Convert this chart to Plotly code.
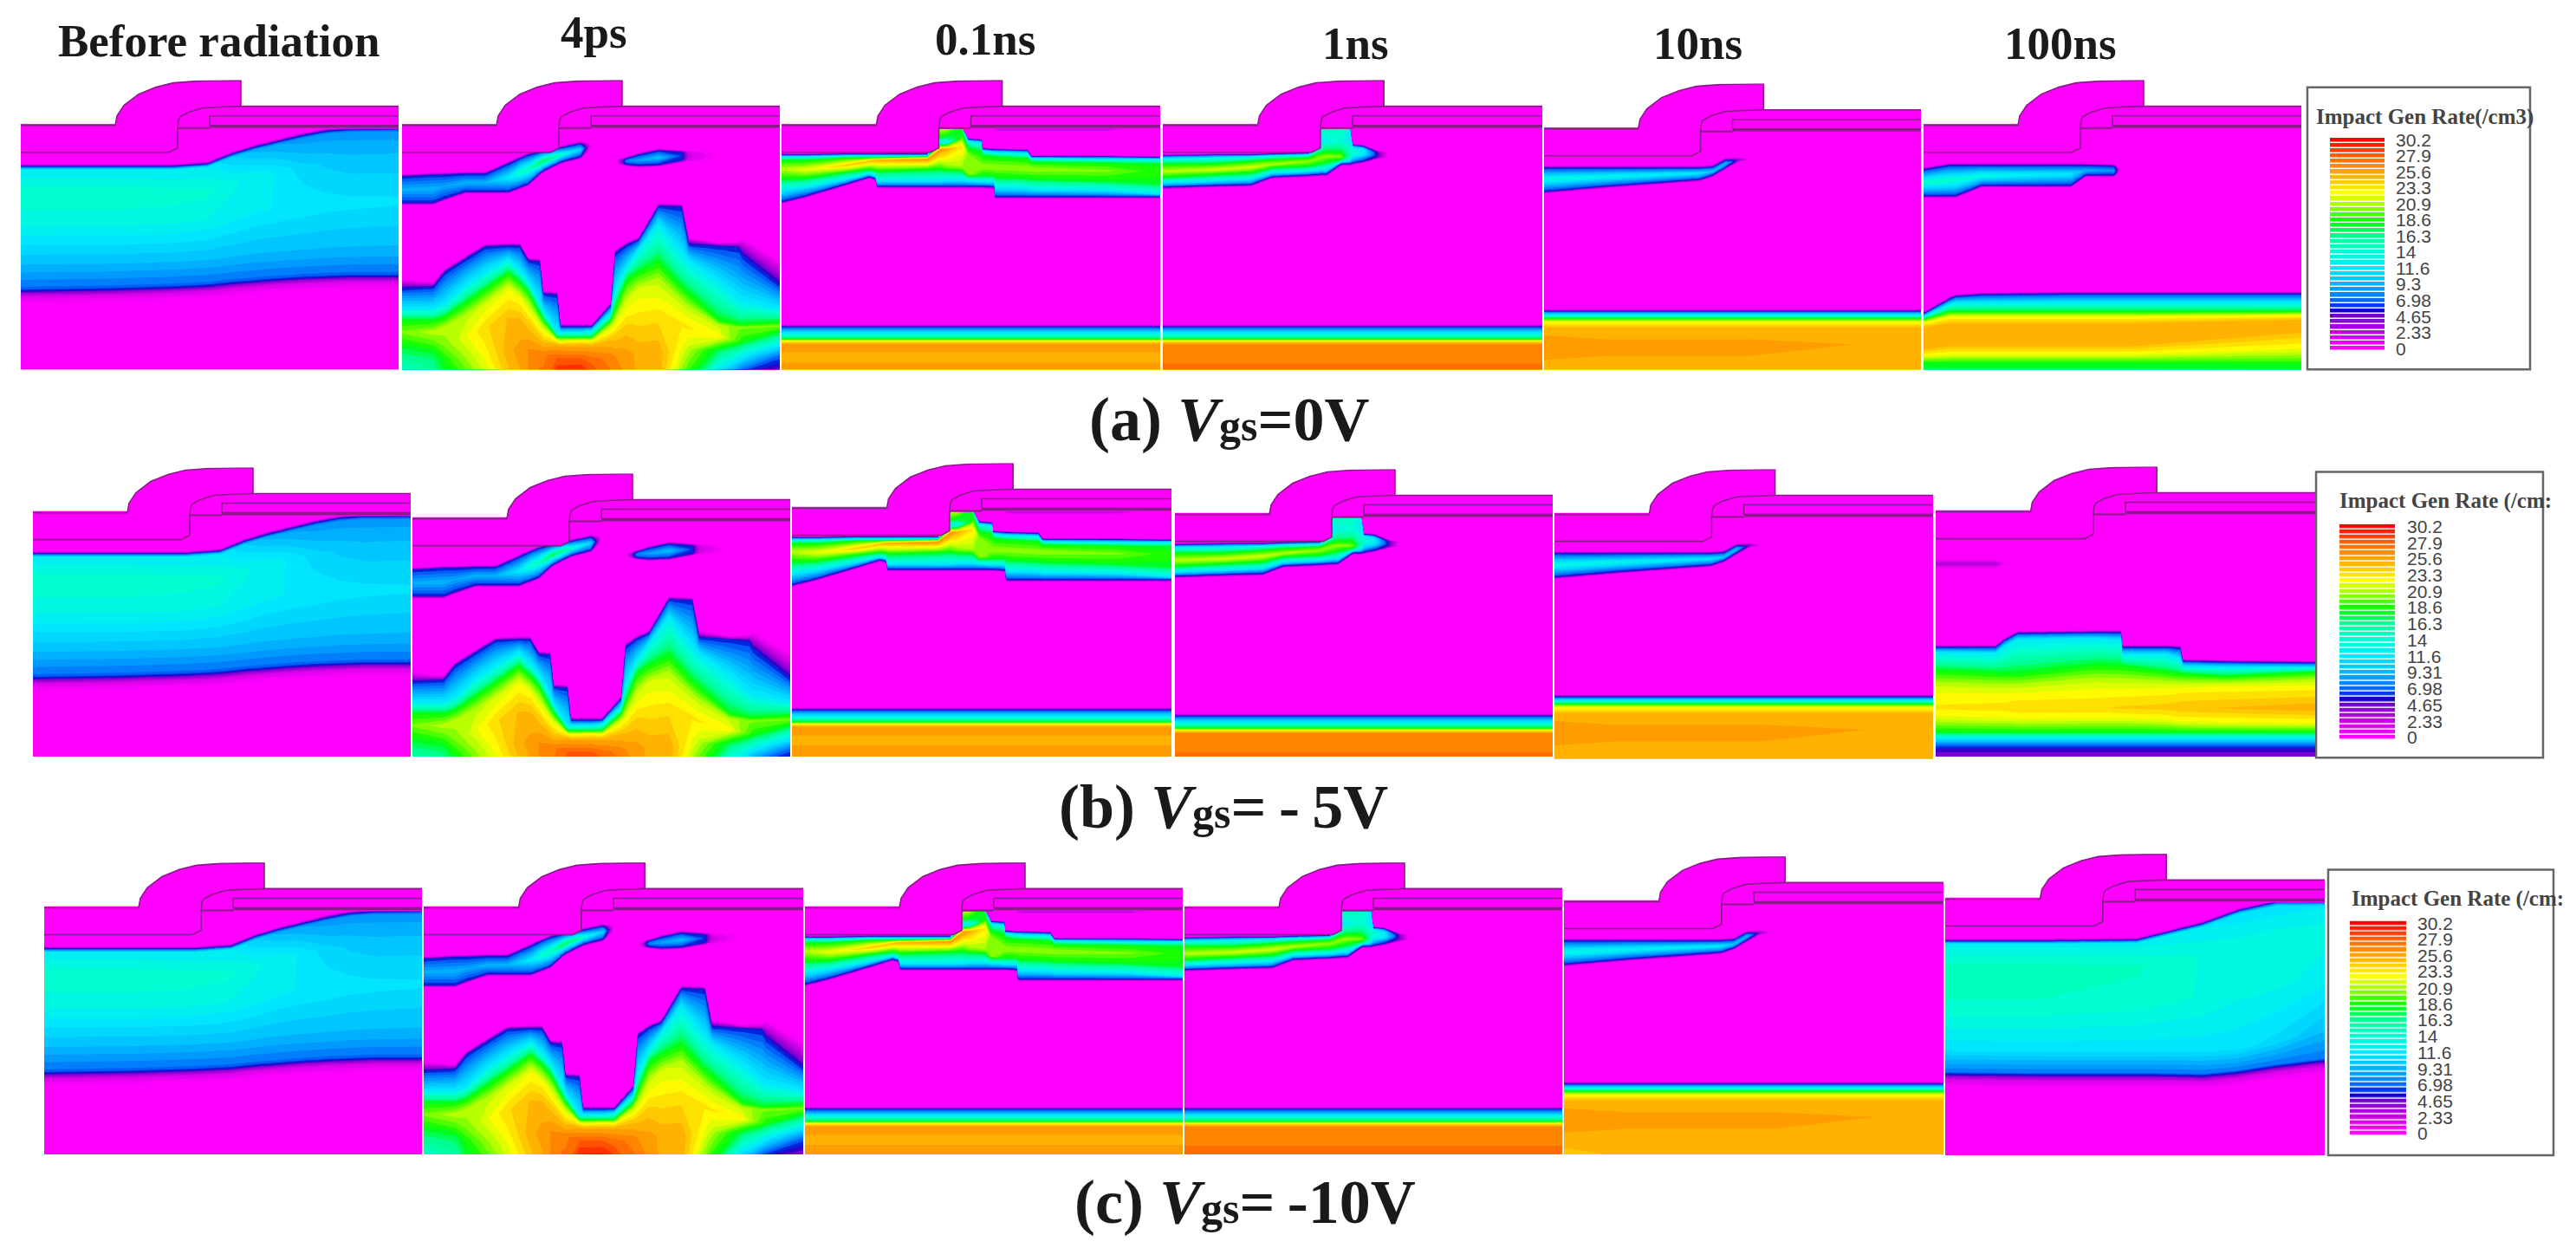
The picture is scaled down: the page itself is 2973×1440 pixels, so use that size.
import plotly.graph_objects as go

W, H = 2973, 1440

# ------------------ colour levels ------------------
Z_MAX = 30.2
SCALE_Z = [0, 2.33, 4.65, 5.6, 6.4, 8, 10, 11.6, 14, 16.3, 18.3, 20.9, 22.5, 24.5, 26, 28, 30.2]
SCALE_C = ["#ff00ff", "#c800e0", "#7000d0", "#0000c8", "#0050f5", "#0090ff", "#00c8ff", "#00e8ff", "#00ffd0",
           "#00ff90", "#00ff00", "#b0ff00", "#ffff00", "#ffc000", "#ff9800", "#ff5a00", "#ff0000"]
LEGEND_LEVELS = [0, 0.78, 1.55, 2.33, 3.1, 3.88, 4.65, 5.43, 6.2, 6.98, 7.76, 8.53, 9.31, 10.1, 10.8,
                 11.6, 12.4, 13.2, 14, 14.8, 15.5, 16.3, 17.1, 17.8, 18.6, 19.4, 20.2, 20.9, 21.7,
                 22.5, 23.3, 24, 24.8, 25.6, 26.4, 27.2, 27.9, 28.7, 29.5, 30.2]
LEGEND_VALUES = [0, 2.33, 4.65, 6.98, 9.31, 11.6, 14, 16.3, 18.6, 20.9, 23.3, 25.6, 27.9, 30.2]
LEGEND_TEXT_A = ["0", "2.33", "4.65", "6.98", "9.3", "11.6", "14", "16.3", "18.6", "20.9", "23.3", "25.6", "27.9", "30.2"]
LEGEND_TEXT_B = ["0", "2.33", "4.65", "6.98", "9.31", "11.6", "14", "16.3", "18.6", "20.9", "23.3", "25.6", "27.9", "30.2"]

TIME_LABELS = ["Before radiation", "4ps", "0.1ns", "1ns", "10ns", "100ns"]

# ------------------ device outline (device units) ------------------
CAP_X = [0, 109, 111, 119, 136, 156, 176, 203, 254, 254, 436, 436, 181, 181, 171, 0, 0]
CAP_Y = [52, 52, 41, 29, 16, 8, 3, 1, 0, 30, 30, 56, 56, 78, 83, 83, 52]
OUT_X = [0, 109, 111, 119, 136, 156, 176, 203, 254, 254, 436]
OUT_Y = [52, 52, 41, 29, 16, 8, 3, 1, 0, 30, 30]
LINER_X = [0, 171, 181, 181, 182, 184, 193, 209, 226, 254]
LINER_Y = [83, 83, 78, 56, 46, 42, 37, 32, 31, 30]
PLATE_X = [436, 218, 218]
PLATE_Y = [41, 41, 52]
SURF_X = [181, 218]
SURF_Y = [55, 55]
THICK_X = [218, 436]
THICK_Y = [53, 53]

# ------------------ field knots: one list per column ------------------
BEFORE_X = [0, 110, 176, 216, 243, 269, 293, 326, 353, 380, 436]
BEFORE_Y = [
    [50, 96, 99, 103, 130, 165, 215, 240, 243, 249, 258, 345],
    [50, 96, 99, 103, 130, 165, 214, 238, 241, 247, 256, 345],
    [50, 96, 99, 103, 130, 163, 212, 236, 239, 245, 254, 345],
    [50, 93, 96, 100, 128, 160, 210, 234, 237, 243, 252, 345],
    [50, 82, 85, 89, 118, 155, 207, 231, 234, 240, 249, 345],
    [50, 74, 77, 81, 110, 150, 204, 229, 232, 238, 247, 345],
    [50, 68, 71, 75, 105, 147, 202, 227, 230, 236, 245, 345],
    [50, 60, 63, 67, 100, 145, 200, 225, 228, 234, 243, 345],
    [50, 55, 58, 62, 95, 143, 198, 224, 227, 233, 242, 345],
    [50, 53, 56, 60, 92, 142, 197, 223, 226, 232, 241, 345],
    [50, 53, 55, 60, 90, 140, 196, 223, 226, 232, 241, 345],
]
BEFORE_Z = [
    [0, 0, 5.5, 12, 14.3, 13, 9.5, 7.2, 5.6, 2, 0, 0],
    [0, 0, 5.5, 12, 14.3, 13, 9.5, 7.2, 5.6, 2, 0, 0],
    [0, 0, 5.5, 12, 14, 13, 9.5, 7.2, 5.6, 2, 0, 0],
    [0, 0, 5.5, 12, 13.8, 12.8, 9.5, 7.2, 5.6, 2, 0, 0],
    [0, 0, 5.5, 10.5, 13, 12.5, 9.5, 7.2, 5.6, 2, 0, 0],
    [0, 0, 5.5, 9.5, 12.5, 12.2, 9.5, 7.2, 5.6, 2, 0, 0],
    [0, 0, 5.5, 9, 12, 12, 9.5, 7.2, 5.6, 2, 0, 0],
    [0, 0, 5.5, 8.5, 10.8, 11.8, 9.5, 7.2, 5.6, 2, 0, 0],
    [0, 0, 5.5, 8.5, 10.3, 11.6, 9.5, 7.2, 5.6, 2, 0, 0],
    [0, 0, 5.5, 8.5, 10, 11.5, 9.5, 7.2, 5.6, 2, 0, 0],
    [0, 0, 5.5, 8.5, 10, 11.4, 9.5, 7.2, 5.6, 2, 0, 0],
]

PS4_X = [0, 36, 49, 73, 96, 123, 136, 146, 159, 163, 179, 183, 206, 219, 241, 246, 259, 273, 296, 323, 331, 366, 389, 393, 436]
PS4_Y = [
    [50, 108, 111, 126, 141, 144, 228, 240, 263, 276, 290, 305, 320, 345],
    [50, 106, 109, 125, 141, 144, 232, 238, 263, 276, 290, 305, 318, 345],
    [50, 106, 109, 122, 136, 139, 217, 221, 258, 272, 285, 305, 320, 345],
    [50, 105, 108, 118, 128, 131, 202, 206, 236, 256, 272, 295, 320, 345],
    [50, 105, 108, 118, 128, 131, 188, 192, 221, 240, 258, 285, 315, 345],
    [50, 93, 96, 112, 128, 131, 187, 191, 206, 221, 240, 275, 310, 345],
    [50, 87, 90, 106, 123, 126, 187, 191, 219, 232, 250, 275, 310, 345],
    [50, 83, 86, 102, 119, 122, 204, 208, 231, 243, 258, 280, 310, 345],
    [50, 80, 83, 95, 107, 110, 205, 209, 255, 268, 280, 295, 315, 345],
    [50, 79, 82, 93, 104, 107, 242, 246, 265, 275, 285, 300, 315, 345],
    [50, 76, 79, 87, 96, 99, 243, 247, 290, 296, 298, 305, 320, 345],
    [50, 75, 78, 86, 94, 97, 280, 284, 290, 296, 299, 306, 320, 345],
    [50, 70, 73, 80, 88, 91, 280, 284, 290, 296, 299, 306, 320, 345],
    [50, 70, 73, 75, 78, 80, 280, 284, 288, 296, 299, 306, 320, 345],
    [50, 70, 73, 75, 78, 80, 255, 259, 268, 276, 282, 300, 320, 345],
    [50, 90, 92, 94, 96, 98, 195, 199, 240, 262, 275, 295, 318, 345],
    [50, 88, 90, 93, 97, 99, 186, 190, 215, 229, 250, 285, 315, 345],
    [50, 83, 86, 92, 98, 101, 180, 184, 195, 220, 240, 280, 315, 345],
    [50, 78, 81, 89, 97, 100, 141, 145, 165, 209, 230, 275, 315, 345],
    [50, 80, 83, 87, 92, 95, 142, 146, 200, 238, 255, 280, 310, 345],
    [50, 80, 83, 87, 91, 95, 180, 189, 208, 245, 262, 285, 310, 345],
    [50, 80, 83, 87, 91, 95, 187, 191, 232, 276, 282, 295, 312, 345],
    [50, 80, 83, 87, 91, 95, 185, 193, 253, 281, 284, 300, 315, 345],
    [50, 80, 83, 87, 91, 95, 180, 201, 255, 281, 284, 300, 315, 345],
    [50, 80, 83, 87, 91, 95, 205, 236, 263, 278, 283, 295, 318, 345],
]
PS4_Z = [
    [0, 0, 6, 9.3, 6, 0, 0, 6, 12, 18, 20, 18, 16, 13],
    [0, 0, 6, 9.5, 6, 0, 0, 6, 12, 18, 21, 19, 17, 15],
    [0, 0, 6, 9, 6, 0, 0, 6, 12, 18, 21, 20, 18.5, 17],
    [0, 0, 6, 9.5, 6, 0, 0, 6, 12, 18, 21, 22, 20.5, 19],
    [0, 0, 6, 9.5, 6, 0, 0, 6, 12, 18, 21.5, 23.5, 22.5, 21],
    [0, 0, 6, 12, 6, 0, 0, 6, 12, 18, 22, 24.5, 25, 24],
    [0, 0, 6, 14.5, 6, 0, 0, 6, 12, 18, 22, 24.5, 25.5, 25],
    [0, 0, 6, 15, 6, 0, 0, 6, 12, 18, 21, 24, 26, 26],
    [0, 0, 6, 17.5, 6, 0, 0, 6, 12, 18, 21.5, 24, 26.5, 27],
    [0, 0, 6, 17.5, 6, 0, 0, 6, 12, 18, 21.5, 24, 26.5, 27],
    [0, 0, 6, 16, 6, 0, 0, 6, 12, 18, 21, 25, 27.5, 30],
    [0, 0, 6, 14.5, 6, 0, 0, 6, 12, 18, 21, 25, 27.5, 30],
    [0, 0, 6, 11, 6, 0, 0, 6, 12, 18, 22, 25, 27.5, 30.2],
    [0, 0, 0, 0, 0, 0, 0, 6, 12, 18, 21.5, 25, 27, 29],
    [0, 0, 0, 0, 0, 0, 0, 6, 12, 18, 21, 24.5, 26.5, 27],
    [0, 0, 0, 0, 0, 0, 0, 6, 12, 18, 21, 24, 26, 26.5],
    [0, 0, 6, 8, 6, 0, 0, 6, 12, 18, 21, 24, 25.5, 26],
    [0, 0, 6, 9, 6, 0, 0, 6, 12, 18, 21.5, 23.5, 25, 25],
    [0, 0, 6, 10, 6, 0, 0, 6, 12, 18, 21, 23.5, 25, 25],
    [0, 0, 6, 6.5, 6, 0, 0, 6, 12, 18, 21, 23, 22, 19.5],
    [0, 0, 2, 2.5, 2, 0, 0, 6, 12, 18, 21, 23, 21, 18],
    [0, 0, 0, 0, 0, 0, 0, 6, 12, 18, 21, 22.5, 17, 9],
    [0, 0, 0, 0, 0, 0, 0, 6, 12, 18, 20, 19, 14, 4],
    [0, 0, 0, 0, 0, 0, 0, 6, 12, 18, 20, 18.5, 13, 3.5],
    [0, 0, 0, 0, 0, 0, 0, 6, 12, 18, 20, 16, 7, 3],
]

# lower orange stripe shared by the 0.1 ns and 1 ns states
STRIPE_Y = [281, 284, 291, 298, 300, 304, 320, 345]
STRIPE_Z_01 = [0, 6, 12, 18, 22, 25.5, 25, 26]
STRIPE_Z_1 = [0, 6, 12, 18, 22, 26, 26.5, 27.5]

NS01_X = [0, 28, 75, 101, 108, 110, 168, 183, 190, 208, 215, 230, 231, 245, 246, 283, 288, 375, 437]
NS01_Y = [
    [52, 53, 84, 86, 88, 92, 102, 114, 127, 140, 143],
    [52, 53, 84, 86, 88, 92, 103, 113, 123, 133, 136],
    [52, 53, 83, 85, 87, 89, 98, 106, 114, 119, 122],
    [52, 53, 83, 85, 87, 89, 93, 103, 108, 111, 114],
    [52, 53, 83, 85, 87, 89, 92, 104, 110, 113, 116],
    [52, 53, 83, 85, 87, 89, 92, 105, 116, 122, 125],
    [52, 53, 83, 85, 87, 88, 91, 103, 116, 122, 125],
    [52, 53, 55, 56, 66, 71, 80, 100, 116, 122, 125],
    [52, 53, 55, 56, 66, 71, 79, 100, 115, 122, 125],
    [52, 53, 55, 56, 62, 68, 76, 100, 115, 122, 125],
    [52, 53, 66, 68, 70, 76, 85, 108, 116, 122, 125],
    [52, 53, 67, 69, 72, 82, 100, 110, 117, 122, 125],
    [52, 53, 77, 79, 81, 86, 100, 110, 117, 122, 125],
    [52, 53, 78, 80, 83, 88, 100, 110, 117, 123, 126],
    [56, 59, 78, 80, 83, 88, 100, 112, 124, 134, 137],
    [56, 59, 79, 81, 84, 90, 102, 113, 125, 134, 137],
    [56, 59, 86, 88, 90, 94, 102, 114, 126, 134, 137],
    [56, 59, 86, 88, 91, 95, 104, 116, 127, 134, 137],
    [52, 53, 87, 89, 91, 96, 105, 119, 131, 134, 137],
]
NS01_Z = [
    [0, 0, 0, 6, 12, 18, 21, 18, 12, 6, 0],
    [0, 0, 0, 6, 12, 18, 22, 18, 12, 6, 0],
    [0, 0, 0, 6, 12, 18, 24, 18, 12, 6, 0],
    [0, 0, 0, 6, 12, 18, 24.5, 18, 12, 6, 0],
    [0, 0, 0, 6, 12, 18, 25, 18, 12, 6, 0],
    [0, 0, 0, 6, 12, 18, 25, 18, 12, 6, 0],
    [0, 0, 0, 6, 12, 18, 26, 18, 12, 6, 0],
    [0, 0, 0, 21, 18, 12, 26, 19, 12, 6, 0],
    [0, 0, 0, 21, 17, 12, 25, 20, 12, 6, 0],
    [0, 0, 0, 17, 18, 20, 23, 20.5, 12, 6, 0],
    [0, 0, 0, 6, 12, 17, 20, 20.5, 12, 6, 0],
    [0, 0, 0, 6, 12, 18, 20.5, 18, 12, 6, 0],
    [0, 0, 0, 6, 12, 18, 20.5, 18, 12, 6, 0],
    [0, 0, 0, 6, 12, 18, 20.5, 18, 12, 6, 0],
    [4, 0, 0, 6, 12, 18, 20.5, 18, 12, 6, 0],
    [4, 0, 0, 6, 12, 18, 20.5, 18, 12, 6, 0],
    [4, 0, 0, 6, 12, 18, 20.5, 18, 12, 6, 0],
    [4, 0, 0, 6, 12, 18, 20, 18, 12, 6, 0],
    [0, 0, 0, 6, 12, 18, 18.5, 18, 12, 6, 0],
]

NS1_X = [0, 58, 101, 125, 168, 183, 188, 205, 215, 218, 230, 250, 260, 436]
NS1_Y = [
    [85, 87, 90, 96, 105, 112, 118, 123, 126],
    [84, 86, 89, 96, 103, 109, 116, 121, 124],
    [84, 86, 88, 93, 100, 107, 114, 120, 123],
    [83, 85, 87, 91, 97, 101, 107, 111, 114],
    [82, 84, 86, 89, 93, 99, 105, 109, 112],
    [55, 56, 70, 80, 88, 96, 103, 108, 111],
    [55, 56, 70, 80, 88, 96, 103, 108, 111],
    [55, 56, 70, 80, 88, 92, 94, 96, 99],
    [55, 56, 70, 78, 86, 90, 93, 96, 99],
    [73, 75, 77, 80, 84, 88, 92, 95, 98],
    [74, 76, 78, 80, 84, 87, 90, 93, 96],
    [82, 83, 84, 85, 86, 87, 88, 89, 90],
    [82, 83, 84, 85, 86, 87, 88, 89, 90],
    [82, 83, 84, 85, 86, 87, 88, 89, 90],
]
NS1_Z = [
    [0, 6, 12, 18, 21, 18, 12, 6, 0],
    [0, 6, 12, 18, 21.5, 18, 12, 6, 0],
    [0, 6, 12, 18, 21.5, 18, 12, 6, 0],
    [0, 6, 12, 18, 21, 18, 12, 6, 0],
    [0, 6, 12, 18, 20.5, 18, 12, 6, 0],
    [0, 15, 12, 16, 20.5, 18, 12, 6, 0],
    [0, 15, 13, 17, 20.5, 17, 12, 6, 0],
    [0, 14.5, 14, 17, 20, 17, 12, 6, 0],
    [0, 12, 12, 14, 15, 14, 11, 6, 0],
    [0, 6, 12, 13.5, 14, 12, 9, 6, 0],
    [0, 6, 10, 12, 12.5, 11, 8, 6, 0],
    [0, 4, 4, 4, 4, 4, 4, 4, 0],
    [0, 0, 0, 0, 0, 0, 0, 0, 0],
    [0, 0, 0, 0, 0, 0, 0, 0, 0],
]

NS10_X = [0, 70, 180, 195, 210, 226, 240, 436]
NS10_Y = [
    [50, 94, 97, 110, 124, 127, 259, 262, 266, 270, 274, 281, 300, 345],
    [50, 94, 97, 107, 118, 121, 259, 262, 266, 270, 274, 281, 300, 345],
    [50, 94, 97, 103, 110, 113, 259, 262, 266, 270, 274, 281, 300, 345],
    [50, 93, 96, 101, 105, 108, 259, 262, 266, 270, 274, 281, 300, 345],
    [50, 85, 88, 92, 96, 99, 259, 262, 266, 270, 274, 281, 300, 345],
    [50, 84, 87, 87, 88, 90, 259, 262, 266, 270, 274, 281, 300, 345],
    [50, 84, 87, 87, 88, 90, 259, 262, 266, 270, 274, 281, 300, 345],
    [50, 84, 87, 87, 88, 90, 259, 262, 266, 270, 274, 281, 300, 345],
]
NS10_Z = [
    [0, 0, 6, 13.5, 6, 0, 0, 6, 12, 18, 22, 24.5, 26, 24],
    [0, 0, 6, 13, 6, 0, 0, 6, 12, 18, 22, 24.5, 25.5, 24.5],
    [0, 0, 6, 12, 6, 0, 0, 6, 12, 18, 22, 24.5, 25.5, 24.5],
    [0, 0, 6, 10.5, 6, 0, 0, 6, 12, 18, 22, 24.5, 25.5, 24.5],
    [0, 0, 6, 10, 6, 0, 0, 6, 12, 18, 22, 24.5, 25.5, 24.5],
    [0, 0, 4, 4, 4, 0, 0, 6, 12, 18, 22, 24.5, 25.5, 24.5],
    [0, 0, 0, 0, 0, 0, 0, 6, 12, 18, 22, 24.5, 25.5, 24.5],
    [0, 0, 0, 0, 0, 0, 0, 6, 12, 18, 22, 24.5, 25, 24.5],
]

NS100A_X = [0, 30, 37, 67, 170, 187, 220, 228, 240, 437]
NS100A_Y = [
    [50, 100, 103, 118, 133, 136, 266, 269, 272, 275, 279, 285, 310, 318, 326, 345],
    [50, 95, 98, 115, 133, 136, 249, 252, 258, 266, 272, 280, 306, 316, 326, 345],
    [50, 95, 98, 115, 133, 136, 246, 249, 256, 266, 272, 280, 306, 316, 326, 345],
    [50, 95, 98, 110, 121, 124, 244, 247, 256, 266, 272, 280, 306, 316, 326, 345],
    [50, 95, 98, 108, 121, 124, 243, 246, 256, 266, 272, 280, 306, 316, 326, 345],
    [50, 95, 98, 104, 109, 112, 243, 246, 256, 266, 272, 280, 306, 316, 326, 345],
    [50, 96, 99, 104, 109, 112, 243, 246, 256, 266, 272, 280, 306, 316, 326, 345],
    [50, 100, 103, 103, 103, 106, 243, 246, 256, 266, 272, 280, 306, 316, 326, 345],
    [50, 100, 103, 103, 103, 106, 243, 246, 256, 266, 272, 280, 306, 316, 326, 345],
    [50, 100, 103, 103, 103, 106, 243, 246, 256, 266, 270, 276, 290, 310, 328, 345],
]
NS100A_Z = [
    [0, 0, 6, 14.5, 6, 0, 0, 6, 12, 18, 22, 24.5, 24.5, 22, 18, 16],
    [0, 0, 6, 14.5, 6, 0, 0, 6, 12, 18, 22, 24.5, 24.5, 22, 18, 16],
    [0, 0, 6, 14.3, 6, 0, 0, 6, 12, 18, 22, 24.5, 24.5, 22, 18, 16],
    [0, 0, 6, 13.5, 6, 0, 0, 6, 12, 18, 22, 24.5, 24.5, 22, 18, 16],
    [0, 0, 6, 11.8, 6, 0, 0, 6, 12, 18, 22, 24.5, 24.5, 22, 18, 16],
    [0, 0, 6, 9.5, 6, 0, 0, 6, 12, 18, 22, 24.5, 24.5, 22, 18, 16],
    [0, 0, 6, 8.5, 6, 0, 0, 6, 12, 18, 22, 24.5, 24.5, 22, 18, 16],
    [0, 0, 0, 0, 0, 0, 0, 6, 12, 18, 22, 24.5, 24.5, 22, 18, 16],
    [0, 0, 0, 0, 0, 0, 0, 6, 12, 18, 22, 24.5, 24.5, 22, 18, 16],
    [0, 0, 0, 0, 0, 0, 0, 6, 12, 18, 22, 24.5, 24.5, 22, 18, 16],
]

NS100B_X = [0, 69, 79, 94, 183, 213, 214, 266, 281, 284, 333, 436]
NS100B_Y = [
    [50, 106, 112, 118, 205, 208, 214, 234, 250, 264, 278, 288, 306, 313, 321, 326, 345],
    [50, 106, 112, 118, 205, 208, 215, 237, 252, 265, 278, 290, 306, 313, 321, 326, 345],
    [50, 106, 112, 118, 197, 200, 207, 238, 252, 265, 278, 290, 306, 313, 321, 326, 345],
    [50, 106, 112, 118, 189, 192, 199, 238, 252, 264, 278, 291, 306, 313, 321, 326, 345],
    [50, 106, 112, 118, 188, 191, 198, 228, 245, 260, 278, 290, 306, 313, 321, 326, 345],
    [50, 106, 112, 118, 188, 191, 200, 229, 246, 260, 278, 290, 306, 313, 321, 326, 345],
    [50, 106, 112, 118, 205, 208, 216, 229, 246, 260, 278, 290, 306, 313, 321, 326, 345],
    [50, 106, 112, 118, 205, 208, 216, 236, 248, 258, 278, 292, 306, 313, 321, 326, 345],
    [50, 106, 112, 118, 206, 209, 222, 238, 249, 257, 278, 294, 306, 313, 321, 326, 345],
    [50, 106, 112, 118, 221, 224, 230, 238, 249, 256, 278, 294, 306, 313, 321, 326, 345],
    [50, 106, 112, 118, 222, 225, 231, 241, 249, 255, 278, 295, 306, 313, 321, 326, 345],
    [50, 106, 112, 118, 223, 226, 231, 236, 246, 254, 278, 296, 306, 313, 321, 326, 345],
]
NS100B_Z = [
    [0, 0, 3.5, 0, 0, 6, 12, 18, 21, 22.5, 23, 22, 18, 12, 7, 5.5, 2.5],
    [0, 0, 3.5, 0, 0, 6, 12, 18, 21, 22.5, 23.2, 22, 18, 12, 7, 5.5, 2.5],
    [0, 0, 1, 0, 0, 6, 12, 18, 21, 22.5, 23.2, 22, 18, 12, 7, 5.5, 2.5],
    [0, 0, 0, 0, 0, 6, 12, 18, 21, 22.5, 23.5, 22, 18, 12, 7, 5.5, 2.5],
    [0, 0, 0, 0, 0, 6, 12, 18, 21, 22.5, 23.5, 22, 18, 12, 7, 5.5, 2.5],
    [0, 0, 0, 0, 0, 6, 12, 18, 21, 22.5, 23.8, 22, 18, 12, 7, 5.5, 2.5],
    [0, 0, 0, 0, 0, 6, 12, 18, 21, 22.5, 23.8, 22, 18, 12, 7, 5.5, 2.5],
    [0, 0, 0, 0, 0, 6, 12, 18, 21, 22.5, 24, 22, 18, 12, 7, 5.5, 2.5],
    [0, 0, 0, 0, 0, 6, 12, 18, 21, 22.5, 24.3, 22, 18, 12, 7, 5.5, 2.5],
    [0, 0, 0, 0, 0, 6, 12, 18, 21, 22.5, 24.3, 22, 18, 12, 7, 5.5, 2.5],
    [0, 0, 0, 0, 0, 6, 12, 18, 21, 22.5, 24.5, 22, 18, 12, 7, 5.5, 2.5],
    [0, 0, 0, 0, 0, 6, 12, 18, 21, 22.5, 25, 22, 18, 12, 7, 5.5, 2.5],
]

NS100C_X = [0, 110, 220, 296, 337, 381, 440]
NS100C_Y = [
    [50, 97, 100, 104, 135, 175, 225, 251, 254, 260, 270, 360],
    [50, 97, 100, 104, 135, 175, 226, 252, 255, 261, 271, 360],
    [50, 96, 99, 103, 130, 172, 226, 252, 255, 261, 271, 360],
    [50, 77, 80, 84, 115, 165, 226, 253, 256, 262, 272, 360],
    [50, 62, 65, 69, 100, 160, 224, 249, 252, 258, 268, 360],
    [50, 53, 55, 60, 90, 150, 215, 242, 245, 251, 261, 360],
    [50, 53, 55, 60, 85, 140, 205, 235, 238, 244, 254, 360],
]
NS100C_Z = [
    [0, 0, 5.5, 12.5, 15, 14.2, 11.5, 7.5, 5.6, 2, 0, 0],
    [0, 0, 5.5, 12.5, 15, 14.2, 11.5, 7.5, 5.6, 2, 0, 0],
    [0, 0, 5.5, 12.5, 14.5, 14, 11.5, 7.5, 5.6, 2, 0, 0],
    [0, 0, 5.5, 12, 13.5, 13.5, 11.5, 7.5, 5.6, 2, 0, 0],
    [0, 0, 5.5, 11.5, 13, 13, 11.5, 7.5, 5.6, 2, 0, 0],
    [0, 0, 5.5, 11.5, 13, 13, 11, 7.5, 5.6, 2, 0, 0],
    [0, 0, 5.5, 12, 13, 12.5, 9.5, 7.5, 5.6, 2, 0, 0],
]

NS01_FIELD = ([[50] + c + STRIPE_Y for c in NS01_Y], [[0] + c + STRIPE_Z_01 for c in NS01_Z])
NS1_FIELD = ([[50] + c + STRIPE_Y for c in NS1_Y], [[0] + c + STRIPE_Z_1 for c in NS1_Z])
FIELDS = {
    "before": (BEFORE_X, BEFORE_Y, BEFORE_Z),
    "ps4": (PS4_X, PS4_Y, PS4_Z),
    "ns01": (NS01_X, NS01_FIELD[0], NS01_FIELD[1]),
    "ns1": (NS1_X, NS1_FIELD[0], NS1_FIELD[1]),
    "ns10": (NS10_X, NS10_Y, NS10_Z),
    "ns100a": (NS100A_X, NS100A_Y, NS100A_Z),
    "ns100b": (NS100B_X, NS100B_Y, NS100B_Z),
    "ns100c": (NS100C_X, NS100C_Y, NS100C_Z),
}

# ------------------ page layout (pixels on the page) ------------------
# field, left, right, top, bottom
PANELS = [
    ("before", 24, 460, 94, 427), ("ps4", 464, 900, 94, 427), ("ns01", 902, 1339, 94, 427),
    ("ns1", 1342, 1780, 94, 427), ("ns10", 1782, 2217, 98, 427), ("ns100a", 2220, 2656, 94, 427),
    ("before", 38, 474, 540, 873), ("ps4", 476, 912, 547, 873), ("ns01", 914, 1352, 535, 873),
    ("ns1", 1356, 1792, 542, 873), ("ns10", 1794, 2231, 542, 875), ("ns100b", 2234, 2672, 539, 873),
    ("before", 51, 487, 995, 1331), ("ps4", 489, 927, 995, 1331), ("ns01", 929, 1365, 995, 1331),
    ("ns1", 1367, 1803, 995, 1331), ("ns10", 1805, 2243, 988, 1331), ("ns100c", 2245, 2683, 985, 1332),
]
# box x0,x1,y0,y1 ; bar x0,x1 ; y of 30.2, y of 0 ; tick text ; title, title x, title y ; standoff
LEGENDS = [
    (2663, 2920, 102, 427, 2689, 2752, 163, 403, LEGEND_TEXT_A, "Impact Gen Rate(/cm3)", 2671, 136, 12),
    (2673, 2935, 545, 874, 2700, 2764, 608, 851, LEGEND_TEXT_B, "Impact Gen Rate (/cm:", 2698, 578, 13),
    (2687, 2947, 1003, 1332, 2712, 2777, 1065, 1307, LEGEND_TEXT_B, "Impact Gen Rate (/cm:", 2712, 1037, 12),
]
TIME_POS = [(252, 48), (685, 38), (1137, 46), (1564, 51), (1959, 51), (2378, 51)]
CAPTIONS = [
    ("(a) ", "=0V", 1418, 485),
    ("(b) ", "=\u2009-\u20095V", 1412, 931),
    ("(c) ", "=\u2009-10V", 1437, 1386),
]

colorscale = [[z / Z_MAX, c] for z, c in zip(SCALE_Z, SCALE_C)]
fig = go.Figure()
layout = dict(width=W, height=H, autosize=False, margin=dict(l=0, r=0, t=0, b=0, pad=0),
              paper_bgcolor="white", plot_bgcolor="rgba(0,0,0,0)", showlegend=False)
shapes, annotations = [], []
LINE_COL = "#8a1a8a"


def page_y(y):
    # vertical placement on the page, tuned against the photographed picture
    return 1.0132 * y - 9.68


def py(y):
    return 1 - page_y(y) / H


def dom_x(a, b):
    return [a / W, b / W]


def dom_y(top, bottom):
    return [py(bottom), py(top)]


n = 0
for name, left, right, top, bottom in PANELS:
    n += 1
    xa, ya = f"x{n}", f"y{n}"
    layout[f"xaxis{n}"] = dict(domain=dom_x(left, right), range=[0, 436], visible=False, anchor=ya, fixedrange=True)
    layout[f"yaxis{n}"] = dict(domain=dom_y(top, bottom), range=[bottom - top, 0], visible=False, anchor=xa, fixedrange=True)
    xs, ys, zs = FIELDS[name]
    nk = len(ys[0])
    cols = list(range(len(xs)))
    knots = list(range(nk))
    grid_x = [list(xs) for _ in knots]
    grid_y = [[ys[c][k] for c in cols] for k in knots]
    grid_z = [[zs[c][k] for c in cols] for k in knots]
    cid = f"c{n}"
    hidden = dict(smoothing=0, showgrid=False, showline=False, showticklabels="none", startline=False,
                  endline=False, minorgridcount=0, type="linear", tickmode="linear", dtick=1000)
    fig.add_trace(go.Carpet(carpet=cid, a=cols, b=knots, x=grid_x, y=grid_y, aaxis=hidden, baxis=hidden,
                            xaxis=xa, yaxis=ya))
    fig.add_trace(go.Contourcarpet(carpet=cid, a=cols, b=knots, z=grid_z, autocontour=False,
                                   contours=dict(start=0.4, end=30.2, size=0.775, coloring="fill"),
                                   line=dict(width=0, smoothing=0), colorscale=colorscale, zmin=0, zmax=Z_MAX,
                                   zauto=False, showscale=False, xaxis=xa, yaxis=ya))
    shapes.append(dict(type="rect", xref="paper", yref="paper", layer="below",
                       x0=left / W, x1=right / W, y0=py(bottom), y1=py(top + 52),
                       fillcolor="#ff00ff", line=dict(width=0)))
    fig.add_trace(go.Scatter(x=CAP_X, y=CAP_Y, mode="lines", fill="toself", fillcolor="#ff00ff",
                             line=dict(width=0), xaxis=xa, yaxis=ya, hoverinfo="skip"))
    for lx, ly, w in [(OUT_X, OUT_Y, 1.6), (LINER_X, LINER_Y, 1.6), (PLATE_X, PLATE_Y, 1.6),
                      (SURF_X, SURF_Y, 2), (THICK_X, THICK_Y, 3.6)]:
        fig.add_trace(go.Scatter(x=lx, y=ly, mode="lines", line=dict(color=LINE_COL, width=w),
                                 xaxis=xa, yaxis=ya, hoverinfo="skip"))

for x0, x1, y0, y1, bx0, bx1, ytop, ybot, ticks, title, tx, ty, standoff in LEGENDS:
    n += 1
    xa, ya = f"x{n}", f"y{n}"
    shapes.append(dict(type="rect", xref="paper", yref="paper", x0=x0 / W, x1=x1 / W, y0=py(y1), y1=py(y0),
                       fillcolor="white", line=dict(color="#666666", width=2.5), layer="below"))
    unit = (ybot - ytop) / Z_MAX
    layout[f"xaxis{n}"] = dict(domain=dom_x(bx0, bx1), range=[-0.5, 0.5], visible=False, anchor=ya, fixedrange=True)
    layout[f"yaxis{n}"] = dict(domain=dom_y(ytop - 0.4 * unit, ybot + 0.4 * unit), range=[-0.4, Z_MAX + 0.4],
                               anchor=xa, side="right", showgrid=False, zeroline=False, showline=False,
                               tickmode="array", tickvals=LEGEND_VALUES, ticktext=ticks, ticks="",
                               ticklabelstandoff=standoff, fixedrange=True,
                               tickfont=dict(family="Liberation Sans", size=21, color="#444444"))
    fig.add_trace(go.Heatmap(x=[0], y=LEGEND_LEVELS, z=[[v] for v in LEGEND_LEVELS], colorscale=colorscale,
                             zmin=0, zmax=Z_MAX, showscale=False, ygap=1.5, xaxis=xa, yaxis=ya))
    annotations.append(dict(text=f"<b>{title}</b>", x=tx / W, y=py(ty), xref="paper", yref="paper",
                            xanchor="left", yanchor="middle", showarrow=False,
                            font=dict(family="Liberation Serif", size=25, color="#444444")))

for label, (tx, ty) in zip(TIME_LABELS, TIME_POS):
    annotations.append(dict(text=f"<b>{label}</b>", x=tx / W, y=py(ty), xref="paper", yref="paper",
                            xanchor="center", yanchor="middle", showarrow=False,
                            font=dict(family="Liberation Serif", size=53, color="#1a1a1a")))

for head, tail, tx, ty in CAPTIONS:
    text = f'<b>{head}<i>V</i><span style="font-size:50px">gs</span>{tail}</b>'
    annotations.append(dict(text=text, x=tx / W, y=py(ty), xref="paper", yref="paper",
                            xanchor="center", yanchor="middle", showarrow=False,
                            font=dict(family="Liberation Serif", size=72, color="#1a1a1a")))

layout["shapes"] = shapes
layout["annotations"] = annotations
fig.update_layout(**layout)
fig.write_html("out.html", config={"displayModeBar": False}, post_script="document.body.style.margin='0';")
